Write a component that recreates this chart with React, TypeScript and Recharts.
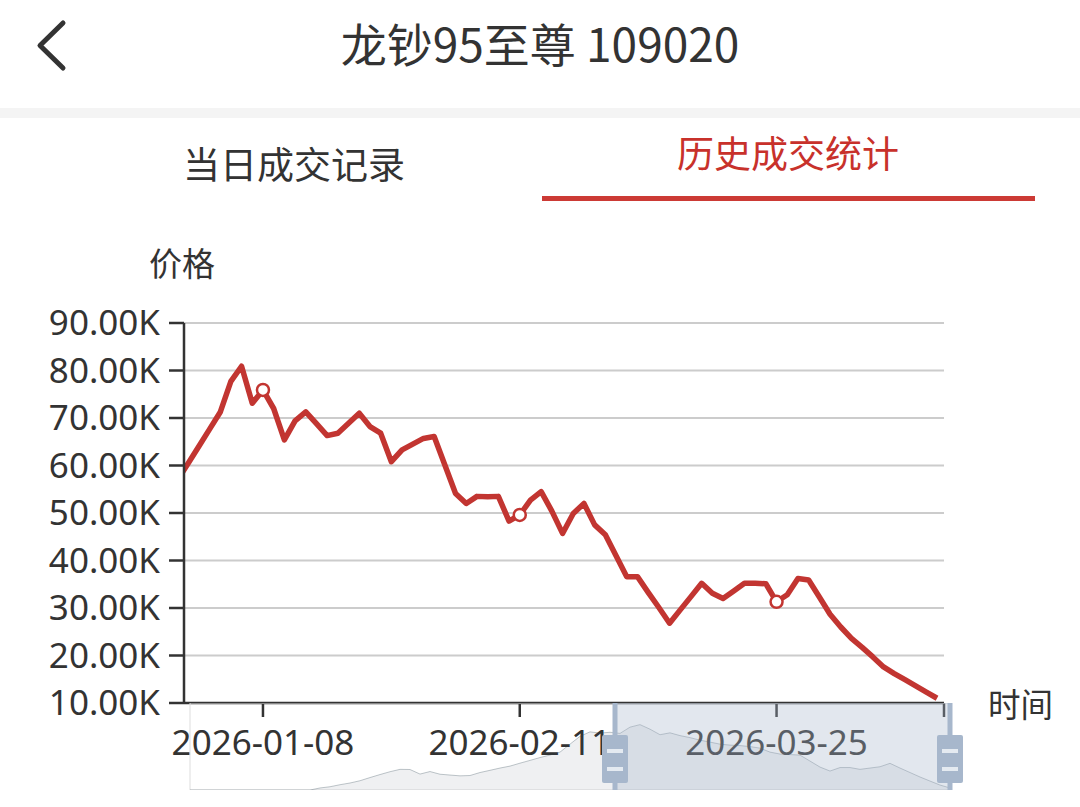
import React from 'react';
import {
  LineChart, Line, XAxis, YAxis, CartesianGrid,
  AreaChart, Area, ReferenceArea, ReferenceLine,
} from 'recharts';

// trading days shown in the zoomed window
const dates = [
  '2025-12-25', '2025-12-26', '2025-12-29', '2025-12-30', '2025-12-31', '2026-01-05', '2026-01-06', '2026-01-07',
  '2026-01-08', '2026-01-09', '2026-01-12', '2026-01-13', '2026-01-14', '2026-01-15', '2026-01-16',
  '2026-01-19', '2026-01-20', '2026-01-21', '2026-01-22', '2026-01-23', '2026-01-26', '2026-01-27',
  '2026-01-28', '2026-01-29', '2026-01-30', '2026-02-02', '2026-02-03', '2026-02-04', '2026-02-05',
  '2026-02-06', '2026-02-09', '2026-02-10', '2026-02-11', '2026-02-12', '2026-02-13', '2026-02-24',
  '2026-02-25', '2026-02-26', '2026-02-27', '2026-03-02', '2026-03-03', '2026-03-04', '2026-03-05',
  '2026-03-06', '2026-03-09', '2026-03-10', '2026-03-11', '2026-03-12', '2026-03-13', '2026-03-16',
  '2026-03-17', '2026-03-18', '2026-03-19', '2026-03-20', '2026-03-23', '2026-03-24', '2026-03-25',
  '2026-03-26', '2026-03-27', '2026-03-30', '2026-03-31', '2026-04-01', '2026-04-02', '2026-04-03',
  '2026-04-07', '2026-04-08', '2026-04-09', '2026-04-10', '2026-04-13', '2026-04-14', '2026-04-15',
  '2026-04-16',
];

const prices = [
  56900, 60400, 64000, 67600, 71200, 77700, 80900, 73100, 75900, 72000,
  65400, 69400, 71300, 68800, 66300, 66800, 68900, 71000, 68200, 66800,
  60800, 63300, 64500, 65700, 66100, 60100, 54100, 52000, 53500, 53400,
  53500, 48300, 49600, 52700, 54500, 50400, 45700, 49900, 52000, 47500,
  45400, 41000, 36600, 36600, 33300, 30100, 26800, 29600, 32400, 35200,
  33100, 32000, 33600, 35200, 35200, 35100, 31300, 32800, 36200, 35900,
  32300, 28700, 26000, 23600, 21700, 19700, 17600, 16200, 14900, 13600,
  12300, 11000,
];

// whole history, drawn small in the zoom slider
const historyPrices = [
  0, 0, 0, 0, 0, 0, 0, 0, 0, 0,
  0, 0, 0, 2500, 4000, 6500, 8600, 11400, 15300, 19000,
  22500, 25400, 25200, 19600, 22700, 19400, 18400, 17400, 17800, 21500,
  24200, 27000, 29400, 33000, 36400, 39900, 43000, 46600, 56400, 66000,
  71500, 70000, 71000, 69600, 77300, 80400, 74800, 68000, 70300, 66900,
  64400, 61300, 58900, 56400, 55200, 54600, 53400, 51500, 46600, 44200,
  43600, 42900, 35600, 28200, 23300, 27600, 27600, 25400, 27000, 28600,
  32800, 27000, 21500, 16000, 11000, 6100, 2500,
];

const labelIdx = [8, 32, 56];
const yTicks = [10000, 20000, 30000, 40000, 50000, 60000, 70000, 80000, 90000];
const xDomain: [number, number] = [0.62, 71.65];
const zoomWindow: [number, number] = [42.5, 76];

const rows = prices.map((price, i) => ({ i, date: dates[i], price }));
const historyRows = historyPrices.map((price, i) => ({ i, price }));

const RED = '#c23531';
const CJK = '"Noto Sans CJK SC", "Noto Sans", sans-serif';

const text = (left: number, top: number, size: number, color = '#333'): React.CSSProperties => ({
  position: 'absolute', left, top, fontSize: size, lineHeight: `${size}px`,
  color, whiteSpace: 'nowrap', fontFamily: CJK,
});

const renderDot = (props: any) => {
  const { cx, cy, index } = props;
  if (!labelIdx.includes(index)) return <g key={`d${index}`} />;
  return <circle key={`d${index}`} cx={cx} cy={cy} r={6} fill="#fff" stroke={RED} strokeWidth={2.5} />;
};

const Handle = (props: any) => {
  const { x, y } = props.viewBox;
  return (
    <g>
      <rect x={x - 13} y={y + 32} width={26} height={48} rx={2} fill="#a7b7cc" />
      <rect x={x - 8} y={y + 46} width={16} height={4} fill="#e4eaf1" />
      <rect x={x - 8} y={y + 64} width={16} height={4} fill="#e4eaf1" />
    </g>
  );
};

export default function App() {
  const tick = { fontSize: 35, fill: '#333', fontFamily: 'Noto Sans' };
  return (
    <div style={{ position: 'fixed', left: 0, top: 0, width: 1080, height: 807, background: '#fff', overflow: 'hidden', fontFamily: CJK }}>
      <svg style={{ position: 'absolute', left: 0, top: 0 }} width={100} height={100}>
        <polyline points="63,23 40,45.5 63,68" fill="none" stroke="#333" strokeWidth={5} strokeLinecap="round" strokeLinejoin="round" />
      </svg>
      <div style={{ ...text(0, 19, 46), width: 1080, textAlign: 'center' }}>龙钞95至尊 109020</div>
      <div style={{ position: 'absolute', left: 0, top: 108, width: 1080, height: 10, background: '#f4f4f4' }} />
      <div style={text(183, 145, 37)}>当日成交记录</div>
      <div style={text(677, 134, 37, '#c8312b')}>历史成交统计</div>
      <div style={{ position: 'absolute', left: 542, top: 196, width: 493, height: 5, background: '#cc3a35' }} />
      <div style={text(149, 246, 33)}>价格</div>
      <div style={text(988, 687, 32.5)}>时间</div>

      <div style={{ position: 'absolute', left: 0, top: 0 }}>
        <LineChart width={1080} height={807} data={rows} margin={{ top: 323, right: 136, bottom: 0, left: 0 }}>
          <CartesianGrid vertical={false} stroke="#ccc" strokeWidth={2} />
          <XAxis
            dataKey="i"
            type="number"
            domain={xDomain}
            allowDataOverflow
            ticks={[...labelIdx, xDomain[1]]}
            interval={0}
            tickFormatter={(v: number) => dates[v] ?? ''}
            height={104}
            tickSize={14}
            tickMargin={13}
            axisLine={{ stroke: '#333', strokeWidth: 2.5 }}
            tickLine={{ stroke: '#333', strokeWidth: 2.5 }}
            tick={tick}
          />
          <YAxis
            type="number"
            domain={[10000, 90000]}
            ticks={yTicks}
            interval={0}
            tickFormatter={(v: number) => `${(v / 1000).toFixed(2)}K`}
            width={184}
            tickSize={15}
            tickMargin={9}
            axisLine={{ stroke: '#333', strokeWidth: 2.5 }}
            tickLine={{ stroke: '#333', strokeWidth: 2.5 }}
            tick={tick}
          />
          <Line
            type="linear"
            dataKey="price"
            stroke={RED}
            strokeWidth={5.5}
            strokeLinejoin="round"
            dot={renderDot}
            activeDot={false}
            isAnimationActive={false}
          />
        </LineChart>
      </div>

      <div style={{ position: 'absolute', left: 180, top: 703 }}>
        <AreaChart width={800} height={87} data={historyRows} margin={{ top: 0, right: 30, bottom: 0, left: 10 }}>
          <XAxis dataKey="i" type="number" domain={[0, 76]} hide />
          <YAxis type="number" domain={[0, 107000]} hide />
          <ReferenceArea x1={0} x2={76} y1={0} y2={107000} fill="none" stroke="#ddd" />
          <Area
            type="linear"
            dataKey="price"
            stroke="rgba(47,69,84,0.3)"
            strokeWidth={1}
            fill="rgba(47,69,84,0.08)"
            fillOpacity={1}
            dot={false}
            activeDot={false}
            isAnimationActive={false}
          />
          <ReferenceArea x1={zoomWindow[0]} x2={zoomWindow[1]} fill="#a7b7cc" fillOpacity={0.33} stroke="none" />
          <ReferenceLine x={zoomWindow[0]} stroke="#a7b7cc" strokeWidth={5} label={<Handle />} />
          <ReferenceLine x={zoomWindow[1]} stroke="#a7b7cc" strokeWidth={5} label={<Handle />} />
        </AreaChart>
      </div>
    </div>
  );
}
